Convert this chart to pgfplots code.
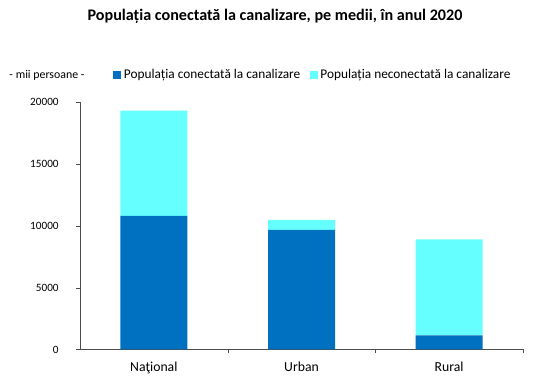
\documentclass[border=0pt]{standalone}
\usepackage{pgfplots}
\pgfplotsset{compat=1.18}
\usepackage{fontspec}
\setmainfont{Carlito}
\definecolor{darkb}{RGB}{0,112,192}
\definecolor{cyanb}{RGB}{102,255,255}
\begin{document}
\begin{tikzpicture}
\path[use as bounding box] (0pt,0pt) rectangle (412.5pt,283.5pt);
\node[font=\bfseries\fontsize{12.1}{14}\selectfont] at (206.25pt,271.5pt) {Populația conectată la canalizare, pe medii, în anul 2020};
\node[font=\fontsize{8.9}{10}\selectfont] at (35.25pt,227.25pt) {- mii persoane -};
\begin{axis}[
  at={(60pt,21.375pt)}, anchor=south west,
  width=332.25pt, height=185.4pt, scale only axis,
  xmin=-0.5, xmax=2.5, ymin=0, ymax=20000,
  axis x line*=bottom, axis y line*=left,
  axis line style={black!70},
  tick align=outside, major tick length=3pt,
  tick style={black!70},
  ytick={0,5000,10000,15000,20000},
  scaled y ticks=false,
  /pgf/number format/1000 sep={},
  /pgf/number format/assume math mode=true,
  yticklabel style={font=\fontsize{8.4}{10}\selectfont, xshift=-9.5pt},
  xtick={0.5,1.5,2.5}, xticklabels={},
  extra x ticks={0,1,2},
  extra x tick labels={Naţional,Urban,Rural},
  extra x tick style={major tick length=0pt, tick style={draw=none}},
  xticklabel style={font=\fontsize{10.3}{12}\selectfont, yshift=-6pt},
  ybar stacked, bar width=50.25pt,
  legend style={draw=none, fill=none, at={(0.0745,1.11)}, anchor=west,
    legend columns=2, font=\fontsize{10}{12}\selectfont,
    /tikz/every even column/.append style={column sep=5pt},
    inner sep=0pt},
  legend image code/.code={\fill[#1] (0pt,-3pt) rectangle (6pt,3pt);},
]
\addplot[fill=darkb, draw=none] coordinates {(0,10810) (1,9670) (2,1140)};
\addplot[fill=cyanb, draw=none] coordinates {(0,8520) (1,810) (2,7760)};
\legend{Populația conectată la canalizare, Populația neconectată la canalizare}
\end{axis}
\end{tikzpicture}
\end{document}
